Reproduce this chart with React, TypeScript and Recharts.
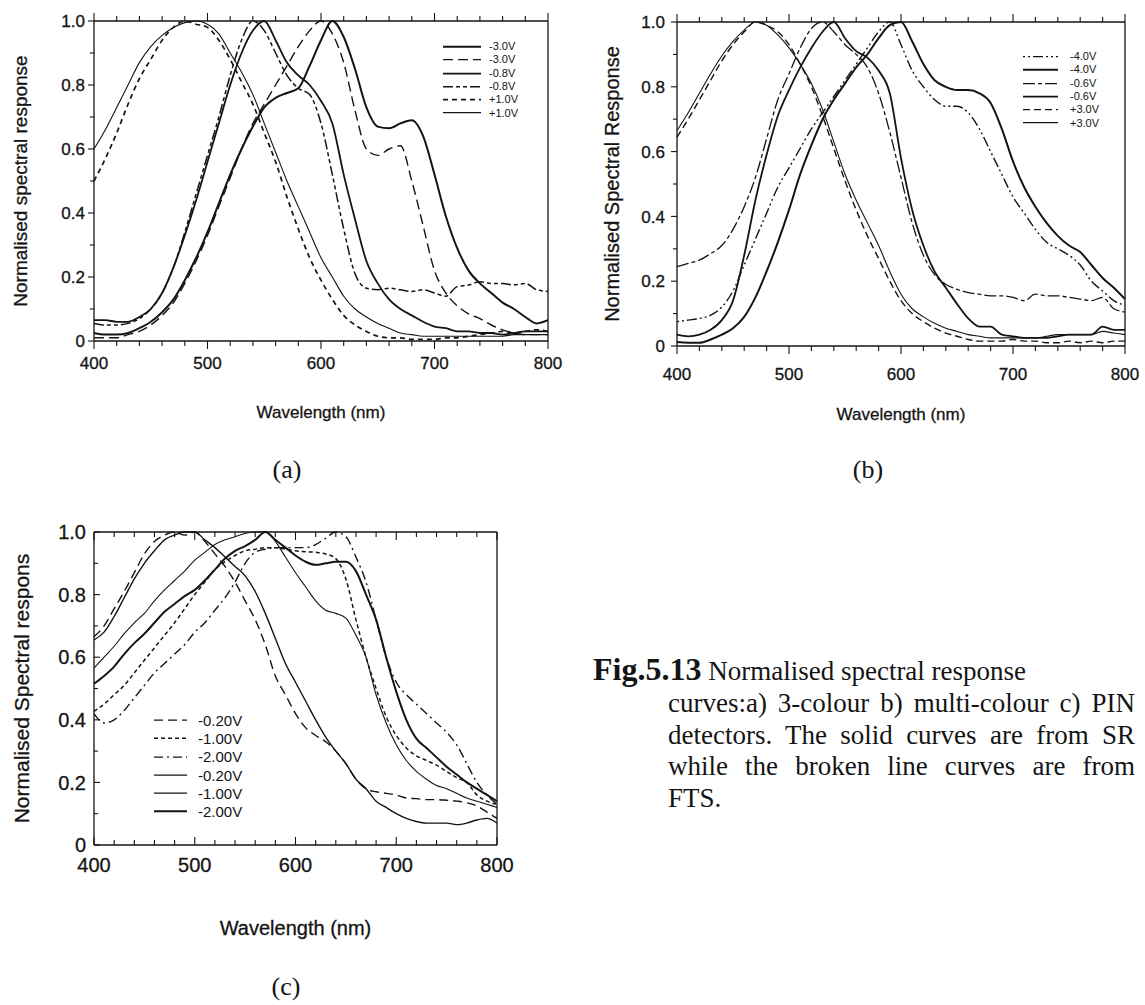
import React from "react";
import { LineChart, Line, XAxis, YAxis, Legend } from "recharts";

const INK = "#141414";
const SANS = "'Liberation Sans', Arial, Helvetica, sans-serif";
const SERIF = "'Liberation Serif', 'Times New Roman', Times, serif";

// wavelength grid (nm), shared by all three panels
const WAVELENGTH = [
  400, 410, 420, 430, 440, 450, 460, 470, 480, 490, 500, 510, 520, 530, 540, 550, 560, 570, 580, 590,
  600, 610, 620, 630, 640, 650, 660, 670, 680, 690, 700, 710, 720, 730, 740, 750, 760, 770, 780, 790, 800,
];
const X_TICKS = [400, 420, 440, 460, 480, 500, 520, 540, 560, 580, 600, 620, 640, 660, 680, 700, 720, 740, 760, 780, 800];
const Y_TICKS = [0, 0.1, 0.2, 0.3, 0.4, 0.5, 0.6, 0.7, 0.8, 0.9, 1];

// (a) 3-colour detector
const A_M30_SR = [
  0.025, 0.02, 0.02, 0.025, 0.04, 0.06, 0.09, 0.13, 0.19, 0.26, 0.34, 0.43, 0.52, 0.6, 0.67, 0.73, 0.76, 0.775, 0.79, 0.86,
  0.94, 1.0, 0.95, 0.85, 0.73, 0.67, 0.665, 0.68, 0.69, 0.64, 0.52, 0.39, 0.29, 0.22, 0.18, 0.15, 0.12, 0.1, 0.075, 0.055, 0.065,
];
const A_M30_FTS = [
  0.01, 0.01, 0.01, 0.02, 0.03, 0.05, 0.08, 0.12, 0.18, 0.25, 0.33, 0.42, 0.51, 0.6, 0.68, 0.74, 0.8, 0.86, 0.92, 0.97,
  1.0, 0.96, 0.87, 0.72, 0.6, 0.58, 0.6, 0.61, 0.5, 0.36, 0.22, 0.15, 0.11, 0.085, 0.07, 0.05, 0.035, 0.025, 0.02, 0.02, 0.02,
];
const A_M08_SR = [
  0.065, 0.065, 0.06, 0.06, 0.075, 0.1, 0.15, 0.23, 0.33, 0.44, 0.56, 0.68, 0.8, 0.9, 0.97, 1.0, 0.94, 0.87, 0.83, 0.8,
  0.75, 0.68, 0.52, 0.38, 0.25, 0.18, 0.13, 0.1, 0.08, 0.06, 0.045, 0.04, 0.03, 0.03, 0.025, 0.025, 0.02, 0.025, 0.03, 0.03, 0.03,
];
const A_M08_FTS = [
  0.055, 0.05, 0.05, 0.055, 0.07, 0.1, 0.15, 0.23, 0.34, 0.46, 0.58, 0.7, 0.83, 0.94, 1.0, 0.97, 0.9, 0.83, 0.79, 0.77,
  0.68, 0.52, 0.35, 0.21, 0.165, 0.16, 0.165, 0.16, 0.155, 0.16, 0.15, 0.14, 0.17, 0.175, 0.185, 0.18, 0.18, 0.175, 0.18, 0.16, 0.155,
];
const A_P10_FTS = [
  0.5, 0.57, 0.65, 0.74, 0.82, 0.88, 0.94, 0.98, 1.0, 0.99, 0.98, 0.94, 0.88, 0.81, 0.74, 0.65, 0.56, 0.45, 0.35, 0.26,
  0.19, 0.13, 0.08, 0.05, 0.03, 0.015, 0.01, 0.01, 0.005, 0.005, 0.005, 0.01, 0.01, 0.015, 0.02, 0.025, 0.03, 0.025, 0.03, 0.035, 0.03,
];
const A_P10_SR = [
  0.6, 0.66, 0.73, 0.8, 0.87, 0.92, 0.955, 0.98, 0.995, 1.0, 0.99, 0.96, 0.9, 0.84, 0.77, 0.68, 0.59, 0.5, 0.42, 0.34,
  0.26, 0.2, 0.14, 0.1, 0.075, 0.055, 0.04, 0.025, 0.02, 0.015, 0.015, 0.015, 0.015, 0.015, 0.015, 0.015, 0.015, 0.02, 0.02, 0.02, 0.02,
];

// (b) multi-colour detector
const B_M40_FTS = [
  0.075, 0.08, 0.085, 0.095, 0.12, 0.17, 0.25, 0.33, 0.41, 0.49, 0.55, 0.61, 0.67, 0.72, 0.77, 0.82, 0.87, 0.92, 0.97, 1.0,
  0.93, 0.85, 0.8, 0.76, 0.74, 0.74, 0.72, 0.67, 0.6, 0.53, 0.46, 0.41, 0.36, 0.32, 0.3, 0.28, 0.25, 0.2, 0.17, 0.14, 0.125,
];
const B_M40_SR = [
  0.012, 0.01, 0.01, 0.02, 0.035, 0.055, 0.09, 0.15, 0.23, 0.32, 0.42, 0.53, 0.62, 0.7, 0.76, 0.81, 0.86, 0.9, 0.95, 0.99,
  1.0, 0.94, 0.87, 0.82, 0.8, 0.79, 0.79, 0.78, 0.75, 0.67, 0.57, 0.49, 0.43, 0.38, 0.34, 0.31, 0.29, 0.25, 0.21, 0.18, 0.145,
];
const B_M06_FTS = [
  0.245, 0.255, 0.265, 0.285, 0.31, 0.36, 0.43, 0.52, 0.64, 0.76, 0.84, 0.92, 0.98, 1.0, 0.97, 0.93, 0.9, 0.86, 0.78, 0.66,
  0.52, 0.38, 0.28, 0.22, 0.19, 0.175, 0.165, 0.16, 0.155, 0.155, 0.15, 0.14, 0.16, 0.155, 0.155, 0.15, 0.145, 0.14, 0.15, 0.115, 0.105,
];
const B_M06_SR = [
  0.035, 0.03, 0.035, 0.05, 0.08, 0.14, 0.28, 0.45, 0.59, 0.71, 0.79, 0.86, 0.92, 0.97, 1.0, 0.95, 0.91, 0.89, 0.85, 0.78,
  0.58, 0.42, 0.31, 0.23, 0.18, 0.13, 0.085, 0.06, 0.06, 0.035, 0.03, 0.025, 0.025, 0.025, 0.03, 0.035, 0.035, 0.035, 0.06, 0.05, 0.05,
];
const B_P30_FTS = [
  0.645, 0.7, 0.76, 0.82, 0.88, 0.93, 0.97, 1.0, 0.99, 0.97, 0.93, 0.87, 0.8, 0.71, 0.61, 0.51, 0.42, 0.34, 0.27, 0.2,
  0.14, 0.1, 0.075, 0.055, 0.04, 0.03, 0.02, 0.015, 0.015, 0.015, 0.02, 0.015, 0.015, 0.01, 0.01, 0.015, 0.01, 0.015, 0.01, 0.015, 0.015,
];
const B_P30_SR = [
  0.665, 0.72, 0.78, 0.84, 0.895, 0.94, 0.975, 1.0, 0.99, 0.96, 0.92, 0.87, 0.81, 0.73, 0.63, 0.53, 0.45, 0.38, 0.31, 0.23,
  0.16, 0.115, 0.09, 0.07, 0.055, 0.045, 0.035, 0.03, 0.025, 0.025, 0.025, 0.025, 0.025, 0.03, 0.035, 0.035, 0.035, 0.035, 0.045, 0.04, 0.035,
];

// (c) PIN detector
const C_M020_FTS = [
  0.665, 0.7, 0.755, 0.81, 0.87, 0.93, 0.97, 0.99, 1.0, 0.99, 1.0, 0.97, 0.93, 0.89, 0.84, 0.78, 0.72, 0.64, 0.54, 0.48,
  0.42, 0.375, 0.35, 0.33, 0.3, 0.26, 0.21, 0.18, 0.17, 0.165, 0.16, 0.15, 0.148, 0.145, 0.145, 0.143, 0.14, 0.135, 0.125, 0.105, 0.085,
];
const C_M100_FTS = [
  0.427, 0.45, 0.48, 0.51, 0.55, 0.59, 0.63, 0.67, 0.71, 0.755, 0.8, 0.84, 0.88, 0.905, 0.925, 0.94, 0.945, 0.95, 0.95, 0.945,
  0.94, 0.937, 0.935, 0.93, 0.915, 0.85, 0.72, 0.6, 0.5, 0.41, 0.35, 0.31, 0.285, 0.27, 0.255, 0.235, 0.215, 0.2, 0.16, 0.14, 0.13,
];
const C_M200_FTS = [
  0.42, 0.39, 0.4, 0.43, 0.47, 0.51, 0.55, 0.58, 0.61, 0.64, 0.68, 0.71, 0.75, 0.79, 0.84, 0.9, 0.935, 0.945, 0.95, 0.95,
  0.95, 0.95, 0.96, 0.98, 1.0, 0.985, 0.92, 0.84, 0.72, 0.6, 0.52, 0.48, 0.45, 0.42, 0.39, 0.36, 0.32, 0.26, 0.2, 0.16, 0.13,
];
const C_M020_SR = [
  0.655, 0.68, 0.73, 0.79, 0.85, 0.9, 0.94, 0.975, 0.99, 1.0, 1.0, 0.975, 0.95, 0.92, 0.89, 0.86, 0.81, 0.74, 0.66, 0.58,
  0.52, 0.46, 0.4, 0.345, 0.3, 0.26, 0.21, 0.18, 0.14, 0.12, 0.1, 0.085, 0.075, 0.07, 0.07, 0.07, 0.065, 0.07, 0.08, 0.085, 0.07,
];
const C_M100_SR = [
  0.565, 0.6, 0.635, 0.675, 0.71, 0.74, 0.78, 0.815, 0.845, 0.875, 0.91, 0.935, 0.96, 0.975, 0.985, 0.995, 1.0, 1.0, 0.97, 0.92,
  0.87, 0.825, 0.78, 0.75, 0.74, 0.725, 0.67, 0.6, 0.48, 0.39, 0.32, 0.27, 0.235, 0.21, 0.19, 0.18, 0.165, 0.15, 0.14, 0.13, 0.12,
];
const C_M200_SR = [
  0.515, 0.54, 0.57, 0.61, 0.645, 0.675, 0.71, 0.745, 0.77, 0.795, 0.815, 0.845, 0.88, 0.915, 0.94, 0.955, 0.975, 1.0, 0.975, 0.95,
  0.925, 0.905, 0.895, 0.9, 0.905, 0.905, 0.875, 0.8, 0.72, 0.6, 0.49, 0.4, 0.34, 0.31, 0.28, 0.25, 0.225, 0.2, 0.18, 0.16, 0.14,
];

type Curve = { key: string; label: string; values: number[]; width: number; dash?: string };

const CURVES_A: Curve[] = [
  { key: "m30sr", label: "-3.0V", values: A_M30_SR, width: 2.0 },
  { key: "m30fts", label: "-3.0V", values: A_M30_FTS, width: 1.4, dash: "10 5" },
  { key: "m08sr", label: "-0.8V", values: A_M08_SR, width: 1.8 },
  { key: "m08fts", label: "-0.8V", values: A_M08_FTS, width: 1.5, dash: "10 3 4 3 4 3" },
  { key: "p10fts", label: "+1.0V", values: A_P10_FTS, width: 1.7, dash: "5 4" },
  { key: "p10sr", label: "+1.0V", values: A_P10_SR, width: 1.1 },
];

const CURVES_B: Curve[] = [
  { key: "m40fts", label: "-4.0V", values: B_M40_FTS, width: 1.4, dash: "2 3 2 3 10 3" },
  { key: "m40sr", label: "-4.0V", values: B_M40_SR, width: 2.0 },
  { key: "m06fts", label: "-0.6V", values: B_M06_FTS, width: 1.3, dash: "12 3 4 3" },
  { key: "m06sr", label: "-0.6V", values: B_M06_SR, width: 1.8 },
  { key: "p30fts", label: "+3.0V", values: B_P30_FTS, width: 1.4, dash: "7 4" },
  { key: "p30sr", label: "+3.0V", values: B_P30_SR, width: 1.1 },
];

const CURVES_C: Curve[] = [
  { key: "m020fts", label: "-0.20V", values: C_M020_FTS, width: 1.4, dash: "9 5" },
  { key: "m100fts", label: "-1.00V", values: C_M100_FTS, width: 1.5, dash: "4 3" },
  { key: "m200fts", label: "-2.00V", values: C_M200_FTS, width: 1.4, dash: "9 4 2 4" },
  { key: "m020sr", label: "-0.20V", values: C_M020_SR, width: 1.4 },
  { key: "m100sr", label: "-1.00V", values: C_M100_SR, width: 1.1 },
  { key: "m200sr", label: "-2.00V", values: C_M200_SR, width: 2.0 },
];

type Geo = {
  left: number;
  top: number;
  width: number;
  height: number;
  margin: { top: number; right: number; bottom: number; left: number };
  yAxisW: number;
  xAxisH: number;
  outward: boolean;
  tickFont: number;
  xLabelGap: number;
  yLabelGap: number;
  yTitle: string;
  yTitleFont: number;
  yTitleX: number;
  xTitleFont: number;
  xTitleDy: number;
  legend: { left: number; top: number; rowH: number; lineLen: number; gap: number; font: number };
};

const GEO_A: Geo = {
  left: 0, top: 0, width: 570, height: 440,
  margin: { top: 20, right: 21, bottom: 14, left: 8 },
  yAxisW: 86, xAxisH: 85, outward: true, tickFont: 17, xLabelGap: 22, yLabelGap: 9,
  yTitle: "Normalised spectral response", yTitleFont: 19, yTitleX: 12,
  xTitleFont: 17, xTitleDy: 71,
  legend: { left: 443, top: 40, rowH: 13.3, lineLen: 38, gap: 8, font: 11 },
};

const GEO_B: Geo = {
  left: 580, top: 0, width: 565, height: 440,
  margin: { top: 21, right: 19, bottom: 9, left: 11 },
  yAxisW: 86, xAxisH: 85, outward: true, tickFont: 17, xLabelGap: 28, yLabelGap: 12,
  yTitle: "Normalised Spectral Response", yTitleFont: 20, yTitleX: 21,
  xTitleFont: 17, xTitleDy: 68,
  legend: { left: 443, top: 50, rowH: 13.3, lineLen: 35, gap: 12, font: 11 },
};

const GEO_C: Geo = {
  left: 0, top: 500, width: 560, height: 505,
  margin: { top: 31, right: 62, bottom: 60, left: 8 },
  yAxisW: 86, xAxisH: 100, outward: false, tickFont: 20, xLabelGap: 20, yLabelGap: 8,
  yTitle: "Normalised Spectral respons", yTitleFont: 21, yTitleX: 13,
  xTitleFont: 20, xTitleDy: 83,
  legend: { left: 154, top: 211, rowH: 18.3, lineLen: 33, gap: 11, font: 15 },
};

const CAPTION_LINES = [
  "curves:a) 3-colour  b) multi-colour  c) PIN",
  "detectors.  The solid curves are from SR",
  "while the broken line curves are from",
  "FTS.",
];

function buildRows(curves: Curve[]) {
  return WAVELENGTH.map((wl, i) => {
    const row: Record<string, number> = { wl };
    curves.forEach((c) => {
      row[c.key] = c.values[i];
    });
    return row;
  });
}

const isMajorY = (v: number) => Math.round(v * 10) % 2 === 0;
const yText = (v: number) => (v === 0 ? "0" : v.toFixed(1));

function LegendBox({ curves, lg }: { curves: Curve[]; lg: Geo["legend"] }) {
  return (
    <div style={{ fontFamily: SANS, fontSize: lg.font, color: INK }}>
      {curves.map((c) => (
        <div key={c.key} style={{ display: "flex", alignItems: "center", height: lg.rowH }}>
          <svg width={lg.lineLen} height={lg.rowH} style={{ display: "block" }}>
            <line x1={0} x2={lg.lineLen} y1={lg.rowH / 2} y2={lg.rowH / 2} stroke={INK} strokeWidth={c.width} strokeDasharray={c.dash} />
          </svg>
          <span style={{ marginLeft: lg.gap, lineHeight: 1 }}>{c.label}</span>
        </div>
      ))}
    </div>
  );
}

function Panel({ curves, geo }: { curves: Curve[]; geo: Geo }) {
  const data = buildRows(curves);
  const axisLine = { stroke: INK, strokeWidth: 1.3 };
  // +1 points away from the plot area, -1 points into it
  const dir = geo.outward ? 1 : -1;
  const textInk = { fill: INK, stroke: INK, strokeWidth: 0.3 };

  const bottomTick = (p: any) => {
    const v = p.payload.value as number;
    const len = v % 100 === 0 ? 8 : 5;
    return (
      <g>
        <line x1={p.x} x2={p.x} y1={p.y} y2={p.y + dir * len} stroke={INK} strokeWidth={1.1} />
        {v % 100 === 0 && (
          <text x={p.x} y={p.y + geo.xLabelGap} dy="0.36em" textAnchor="middle" fontSize={geo.tickFont} fontFamily={SANS} {...textInk}>
            {v}
          </text>
        )}
      </g>
    );
  };
  const topTick = (p: any) => {
    const v = p.payload.value as number;
    const len = v % 100 === 0 ? 8 : 5;
    return <line x1={p.x} x2={p.x} y1={p.y} y2={p.y - dir * len} stroke={INK} strokeWidth={1.1} />;
  };
  const leftTick = (p: any) => {
    const v = p.payload.value as number;
    const major = isMajorY(v);
    const len = major ? 6 : 4;
    return (
      <g>
        <line x1={p.x} x2={p.x - dir * len} y1={p.y} y2={p.y} stroke={INK} strokeWidth={1.1} />
        {major && (
          <text x={p.x - geo.yLabelGap} y={p.y} dy="0.36em" textAnchor="end" fontSize={geo.tickFont} fontFamily={SANS} {...textInk}>
            {yText(v)}
          </text>
        )}
      </g>
    );
  };
  const rightTick = (p: any) => {
    const v = p.payload.value as number;
    const len = isMajorY(v) ? 6 : 4;
    return <line x1={p.x} x2={p.x + dir * len} y1={p.y} y2={p.y} stroke={INK} strokeWidth={1.1} />;
  };
  const yTitle = (p: any) => {
    const vb = p && p.viewBox;
    if (!vb) return null;
    const cx = vb.x + geo.yTitleX;
    const cy = vb.y + vb.height / 2;
    return (
      <text x={cx} y={cy} transform={`rotate(-90 ${cx} ${cy})`} textAnchor="middle" dominantBaseline="central"
        fontSize={geo.yTitleFont} fontFamily={SANS} {...textInk}>
        {geo.yTitle}
      </text>
    );
  };
  const xTitle = (p: any) => {
    const vb = p && p.viewBox;
    if (!vb) return null;
    return (
      <text x={vb.x + vb.width / 2} y={vb.y + geo.xTitleDy} textAnchor="middle" dominantBaseline="central"
        fontSize={geo.xTitleFont} fontFamily={SANS} {...textInk}>
        Wavelength (nm)
      </text>
    );
  };

  return (
    <div style={{ position: "absolute", left: geo.left, top: geo.top }}>
      <LineChart width={geo.width} height={geo.height} data={data} margin={geo.margin}>
        <XAxis xAxisId="b" dataKey="wl" type="number" domain={[400, 800]} ticks={X_TICKS} interval={0}
          tickSize={0} tickMargin={0} tickLine={false} height={geo.xAxisH} axisLine={axisLine} tick={bottomTick} label={xTitle} />
        <XAxis xAxisId="t" orientation="top" dataKey="wl" type="number" domain={[400, 800]} ticks={X_TICKS} interval={0}
          tickSize={0} tickMargin={0} tickLine={false} height={1} axisLine={axisLine} tick={topTick} />
        <YAxis yAxisId="l" type="number" domain={[0, 1]} ticks={Y_TICKS} interval={0}
          tickSize={0} tickMargin={0} tickLine={false} width={geo.yAxisW} axisLine={axisLine} tick={leftTick} label={yTitle} />
        <YAxis yAxisId="r" orientation="right" type="number" domain={[0, 1]} ticks={Y_TICKS} interval={0}
          tickSize={0} tickMargin={0} tickLine={false} width={1} axisLine={axisLine} tick={rightTick} />
        <Legend layout="vertical" align="center" verticalAlign="middle"
          wrapperStyle={{ left: geo.legend.left, top: geo.legend.top, width: 140, height: "auto" }}
          content={() => <LegendBox curves={curves} lg={geo.legend} />} />
        {curves.map((c) => (
          <Line key={c.key} xAxisId="b" yAxisId="l" dataKey={c.key} name={c.label} type="monotone"
            stroke={INK} strokeWidth={c.width} strokeDasharray={c.dash}
            dot={false} activeDot={false} isAnimationActive={false} />
        ))}
      </LineChart>
    </div>
  );
}

function PanelTag({ text, x, y }: { text: string; x: number; y: number }) {
  return (
    <div style={{ position: "absolute", left: x - 30, top: y - 16, width: 60, textAlign: "center", fontFamily: SERIF, fontSize: 26, lineHeight: "32px", color: INK }}>
      {text}
    </div>
  );
}

export default function App() {
  return (
    <div style={{ position: "relative", width: 1145, height: 1005, background: "#fff", overflow: "hidden" }}>
      <style>{"html,body{margin:0;padding:0;background:#fff}"}</style>
      <Panel curves={CURVES_A} geo={GEO_A} />
      <Panel curves={CURVES_B} geo={GEO_B} />
      <Panel curves={CURVES_C} geo={GEO_C} />
      <PanelTag text="(a)" x={287} y={470} />
      <PanelTag text="(b)" x={868} y={470} />
      <PanelTag text="(c)" x={286} y={987} />
      <div style={{ position: "absolute", left: 593, top: 654, fontFamily: SERIF, fontSize: 27, lineHeight: "31px", whiteSpace: "nowrap", color: INK }}>
        <b style={{ fontSize: 32 }}>Fig.5.13</b> Normalised spectral response
      </div>
      {CAPTION_LINES.map((t, i) => (
        <div key={i} style={{
          position: "absolute", left: 668, top: 688 + i * 31.5, width: 467,
          fontFamily: SERIF, fontSize: 27, lineHeight: "31px", color: INK,
          textAlign: "justify", textAlignLast: i < CAPTION_LINES.length - 1 ? "justify" : "left",
        }}>
          {t}
        </div>
      ))}
    </div>
  );
}
